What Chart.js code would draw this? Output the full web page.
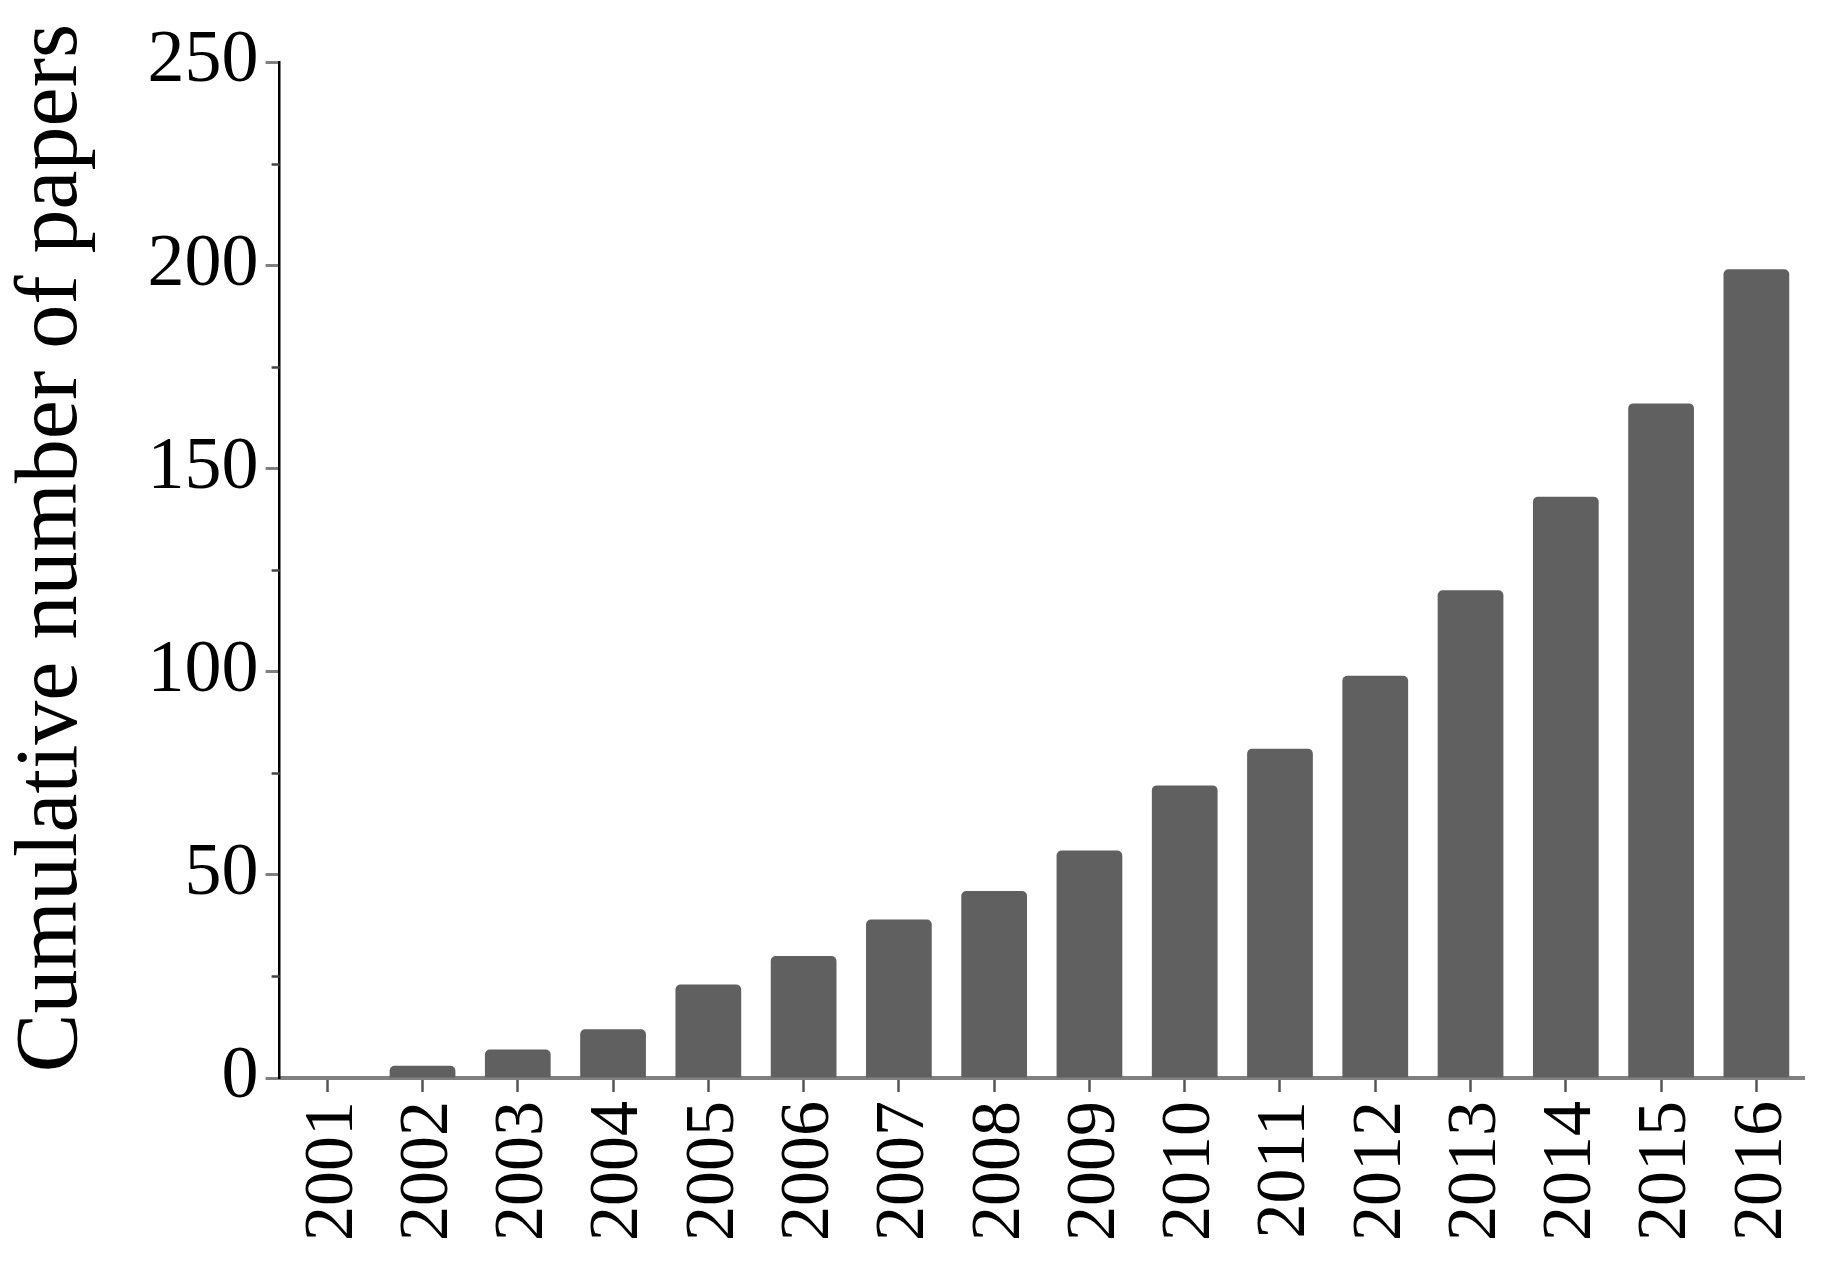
<!DOCTYPE html>
<html>
<head>
<meta charset="utf-8">
<script src="https://cdn.jsdelivr.net/npm/chart.js@4.4.1/dist/chart.umd.min.js"></script>
<style>
  html,body{margin:0;padding:0;background:#fff;}
  #wrap{width:1831px;height:1266px;}
</style>
</head>
<body>
<div id="wrap"><canvas id="papersChart"></canvas></div>
<script>
/* cumulative papers per year */
const years=['2001','2002','2003','2004','2005','2006','2007','2008','2009','2010','2011','2012','2013','2014','2015','2016'];
const cumulativePapers=[0,3,7,12,23,30,39,46,56,72,81,99,120,143,166,199];
const majorTicks=[0,50,100,150,200,250];
const minorTicks=[25,75,125,175,225];
const yTitle='Cumulative number of papers';

(function(){
  const serif="'Liberation Serif','Times New Roman',serif";

  // short minor ticks on the y axis, placed through the y scale
  const minorTickPlugin={
    id:'minorTickPlugin',
    afterDraw(chart){
      const sy=chart.scales.y, ctx=chart.ctx, x0=chart.chartArea.left;
      ctx.save();
      ctx.strokeStyle='#444';
      ctx.lineWidth=2.5;
      minorTicks.forEach(v=>{
        const py=Math.round(sy.getPixelForValue(v))+0.5;
        ctx.beginPath();ctx.moveTo(x0-8,py);ctx.lineTo(x0,py);ctx.stroke();
      });
      ctx.restore();
    }
  };

  const ctx=document.getElementById('papersChart');
  new Chart(ctx,{
    type:'bar',
    data:{labels:years,datasets:[{
      label:'Papers',
      data:cumulativePapers,
      backgroundColor:'#606060',
      borderWidth:0,
      borderRadius:5,
      borderSkipped:'start',
      barPercentage:0.69,
      categoryPercentage:1.0
    }]},
    options:{
      responsive:true,
      maintainAspectRatio:false,
      devicePixelRatio:1,
      animation:false,
      layout:{padding:{left:0,right:27,top:62,bottom:16}},
      plugins:{legend:{display:false},tooltip:{enabled:false}},
      scales:{
        x:{
          afterFit(scale){scale.paddingRight=0;},
          grid:{display:true,drawOnChartArea:false,drawTicks:true,offset:false,tickLength:14,tickColor:'#555',tickWidth:2.5},
          border:{display:true,color:'#808080',width:4},
          ticks:{color:'#000',font:{family:serif,size:70},maxRotation:90,minRotation:90,padding:9,labelOffset:6,autoSkip:false}
        },
        y:{
          min:0,max:250,
          afterBuildTicks(scale){scale.ticks=majorTicks.map(v=>({value:v}));},
          grid:{display:true,drawOnChartArea:false,drawTicks:true,tickLength:14,tickColor:'#808080',tickWidth:3},
          border:{display:true,color:'#000',width:2.5},
          ticks:{color:'#000',font:{family:serif,size:74},padding:7},
          title:{display:true,text:'  '+yTitle,color:'#000',font:{family:serif,size:88},padding:{top:0,bottom:35}}
        }
      }
    },
    plugins:[minorTickPlugin]
  });
})();
</script>
</body>
</html>
